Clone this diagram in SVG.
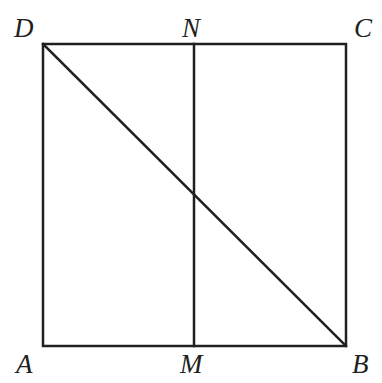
<svg xmlns="http://www.w3.org/2000/svg" width="382" height="383" viewBox="0 0 382 383">
<style>
.l{fill:none;stroke:#231f20;stroke-width:2.5;stroke-linecap:square}
.t{font-family:'Liberation Serif',serif;font-style:italic;font-size:27px;fill:#231f20}
</style>
<rect width="382" height="383" fill="#fff"/>
<g id="connectors">
<rect class="l" x="43" y="44" width="303" height="302"/>
<line class="l" x1="194" y1="44" x2="194" y2="346"/>
<line class="l" x1="43" y1="44" x2="346" y2="346"/>
</g>
<g id="D"><text class="t" x="14" y="37">D</text></g>
<g id="N"><text class="t" x="182" y="37">N</text></g>
<g id="C"><text class="t" x="354" y="37">C</text></g>
<g id="A"><text class="t" x="16" y="373">A</text></g>
<g id="M"><text class="t" x="180" y="373">M</text></g>
<g id="B"><text class="t" x="352" y="373">B</text></g>
</svg>
